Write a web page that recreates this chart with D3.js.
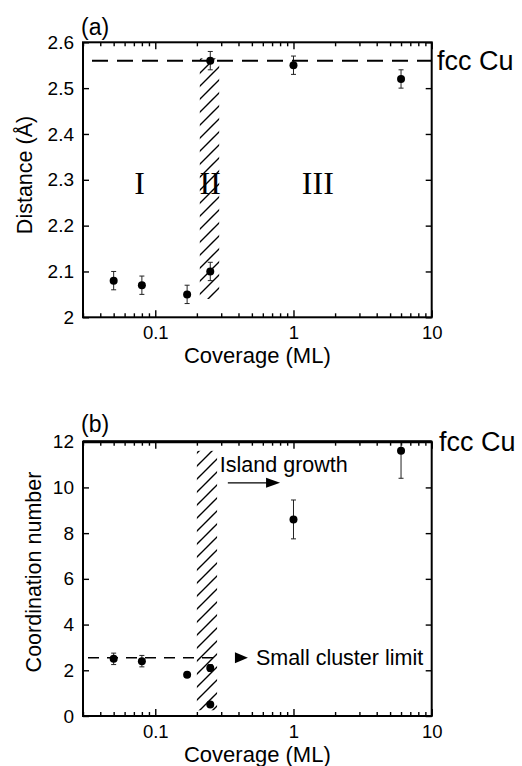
<!DOCTYPE html>
<html>
<head>
<meta charset="utf-8">
<script src="https://cdn.jsdelivr.net/npm/d3@7"></script>
<style>
  html, body { margin: 0; padding: 0; background: #fff; }
  svg { display: block; }
  text { font-family: "Liberation Sans", Arial, Helvetica, sans-serif; fill: #000; }
</style>
</head>
<body>
<svg id="chart" width="522" height="766"></svg>
<script>
// Measured samples: Cu coverage (ML)
const coverage = [0.05, 0.08, 0.17, 0.25, 0.25, 1, 6];
// (a) nearest-neighbour distance (Å) with error
const distance = [2.08, 2.07, 2.05, 2.10, 2.56, 2.55, 2.52];
const distanceErr = [0.02, 0.02, 0.02, 0.02, 0.02, 0.02, 0.02];
// (b) coordination number with error
const coordination = [2.5, 2.4, 1.8, 2.1, 0.5, 8.6, 11.6];
const coordinationErr = [0.25, 0.25, 0, 0.15, 0.08, 0.85, 1.2];

// Reference levels
const fccCuDistance = 2.56;
const fccCuCoordination = 12;
const smallClusterLimit = 2.55;

// Transition band (coverage range, value range)
const bandCoverageA = [0.21, 0.29];
const bandValueA = [2.04, 2.565];
const bandCoverageB = [0.20, 0.28];
const bandValueB = [0.25, 11.6];

// Regime labels
const regimeNames = ["I", "II", "III"];
const regimeCoverage = [0.077, 0.25, 1.5];
const regimeValue = 2.295;

// Annotations in panel (b)
const islandArrowCoverage = [0.335, 0.80];
const islandArrowValue = 10.2;
const clusterLineCoverage = [0.03, 0.29];
const clusterArrowCoverage = [0.377, 0.468];

// Axis ticks
const xMajorTicks = [0.1, 1, 10];
const xMinorTicks = [0.03,0.04,0.05,0.06,0.07,0.08,0.09,0.2,0.3,0.4,0.5,0.6,0.7,0.8,0.9,2,3,4,5,6,7,8,9];
const distanceTicks = [2, 2.1, 2.2, 2.3, 2.4, 2.5, 2.6];
const coordinationTicks = [0, 2, 4, 6, 8, 10, 12];

const svg = d3.select("#chart");

const left = 83, right = 431.7;
const x = d3.scaleLog().domain([0.03, 10]).range([left, right]);

const defs = svg.append("defs");
const hatch = defs.append("pattern")
  .attr("id", "hatch")
  .attr("patternUnits", "userSpaceOnUse")
  .attr("width", 13).attr("height", 13);
hatch.append("path")
  .attr("d", "M0,13 L13,0 M-3,3 L3,-3 M10,16 L16,10")
  .attr("stroke", "#000").attr("stroke-width", 1.4);

function drawPanel(opts) {
  const { top, bottom, domain, ticks, values, errors, yTitle, tag, tagY, id } = opts;
  const y = d3.scaleLinear().domain(domain).range([bottom, top]);
  const g = svg.append("g");

  defs.append("clipPath").attr("id", "clip" + id)
    .append("rect").attr("x", left).attr("y", top)
    .attr("width", right - left).attr("height", bottom - top);

  // hatched transition band
  g.append("rect")
    .attr("x", x(opts.band[0]))
    .attr("width", x(opts.band[1]) - x(opts.band[0]))
    .attr("y", y(opts.bandV[1]))
    .attr("height", y(opts.bandV[0]) - y(opts.bandV[1]))
    .attr("fill", "url(#hatch)");

  // axes: bottom and top (inward ticks)
  const styleAxis = sel => {
    sel.select(".domain").remove();
    sel.selectAll(".tick line").attr("stroke", "#000").attr("stroke-width", 1.4);
  };
  g.append("g").attr("transform", `translate(0,${bottom})`)
    .call(d3.axisBottom(x).tickValues(xMinorTicks).tickSize(-4).tickFormat(""))
    .call(styleAxis);
  g.append("g").attr("transform", `translate(0,${bottom})`)
    .call(d3.axisBottom(x).tickValues(xMajorTicks).tickSize(-7).tickPadding(9)
      .tickFormat(d3.format("~g")))
    .call(styleAxis)
    .selectAll("text").attr("font-size", 18.5).attr("font-family", null);
  g.append("g").attr("transform", `translate(0,${top})`)
    .call(d3.axisTop(x).tickValues(xMinorTicks).tickSize(-4).tickFormat(""))
    .call(styleAxis);
  g.append("g").attr("transform", `translate(0,${top})`)
    .call(d3.axisTop(x).tickValues(xMajorTicks).tickSize(-7).tickFormat(""))
    .call(styleAxis);

  // left and right axes
  g.append("g").attr("transform", `translate(${left},0)`)
    .call(d3.axisLeft(y).tickValues(ticks).tickSize(-6).tickPadding(9)
      .tickFormat(d3.format("~g")))
    .call(styleAxis)
    .selectAll("text").attr("font-size", 19).attr("font-family", null);
  g.append("g").attr("transform", `translate(${right},0)`)
    .call(d3.axisRight(y).tickValues(ticks).tickSize(-6).tickFormat(""))
    .call(styleAxis);

  // frame
  g.append("rect").attr("x", left).attr("y", top)
    .attr("width", right - left).attr("height", bottom - top)
    .attr("fill", "none").attr("stroke", "#000").attr("stroke-width", 2);

  // error bars and points
  const data = coverage.map((c, i) => ({ c, v: values[i], e: errors[i] }));
  const eb = g.append("g").attr("clip-path", `url(#clip${id})`);
  data.filter(d => d.e > 0).forEach(d => {
    const cx = x(d.c);
    eb.append("line").attr("x1", cx).attr("x2", cx)
      .attr("y1", y(d.v - d.e)).attr("y2", y(d.v + d.e))
      .attr("stroke", "#222").attr("stroke-width", 1);
    [d.v - d.e, d.v + d.e].forEach(v => {
      eb.append("line").attr("x1", cx - 2.5).attr("x2", cx + 2.5)
        .attr("y1", y(v)).attr("y2", y(v))
        .attr("stroke", "#222").attr("stroke-width", 1);
    });
  });
  g.append("g").selectAll("circle").data(data).join("circle")
    .attr("cx", d => x(d.c)).attr("cy", d => y(d.v)).attr("r", 4)
    .attr("fill", "#000");

  // titles
  g.append("text")
    .attr("transform", `translate(${opts.yTitleX},${opts.yTitleY}) rotate(-90)`)
    .attr("text-anchor", "middle").attr("dominant-baseline", "central")
    .attr("font-size", 21.5).text(yTitle);
  g.append("text")
    .attr("x", (left + right) / 2 + 0).attr("y", bottom + 46)
    .attr("text-anchor", "middle").attr("font-size", 22)
    .text("Coverage (ML)");
  g.append("text").attr("x", 81).attr("y", tagY)
    .attr("font-size", 23).text(tag);

  return { g, y };
}

// ---------- panel (a): distance ----------
const a = drawPanel({
  id: "a", top: 42.3, bottom: 317.3, domain: [2.0, 2.6],
  ticks: distanceTicks, values: distance, errors: distanceErr,
  yTitle: "Distance (Å)", yTitleX: 25, yTitleY: 175,
  tag: "(a)", tagY: 35, band: bandCoverageA, bandV: bandValueA
});
a.g.append("line")
  .attr("x1", x(0.03)).attr("x2", x(10))
  .attr("y1", a.y(fccCuDistance)).attr("y2", a.y(fccCuDistance))
  .attr("stroke", "#000").attr("stroke-width", 2)
  .attr("stroke-dasharray", "16,9").attr("stroke-dashoffset", -9);
a.g.append("text").attr("x", 437).attr("y", a.y(fccCuDistance))
  .attr("dominant-baseline", "central").attr("font-size", 27).text("fcc Cu");
a.g.selectAll(".regime").data(regimeNames).join("text")
  .attr("class", "regime")
  .attr("x", (d, i) => x(regimeCoverage[i]))
  .attr("y", a.y(regimeValue)).attr("dy", "0.36em")
  .attr("text-anchor", "middle")
  .style("font-family", '"Liberation Serif", "Times New Roman", serif')
  .attr("font-size", 32).text(d => d);

// ---------- panel (b): coordination number ----------
const b = drawPanel({
  id: "b", top: 441.7, bottom: 716, domain: [0, 12],
  ticks: coordinationTicks, values: coordination, errors: coordinationErr,
  yTitle: "Coordination number", yTitleX: 34, yTitleY: 572,
  tag: "(b)", tagY: 432, band: bandCoverageB, bandV: bandValueB
});
b.g.append("line")
  .attr("x1", x(0.03)).attr("x2", x(10))
  .attr("y1", b.y(fccCuCoordination)).attr("y2", b.y(fccCuCoordination))
  .attr("stroke", "#000").attr("stroke-width", 3);
b.g.append("text").attr("x", 439).attr("y", b.y(fccCuCoordination))
  .attr("dominant-baseline", "central").attr("font-size", 27).text("fcc Cu");

// small-cluster limit: dashed line, arrowhead, label
b.g.append("line")
  .attr("x1", x(clusterLineCoverage[0])).attr("x2", x(clusterLineCoverage[1]))
  .attr("y1", b.y(smallClusterLimit)).attr("y2", b.y(smallClusterLimit))
  .attr("stroke", "#000").attr("stroke-width", 1.5)
  .attr("stroke-dasharray", "11,8").attr("stroke-dashoffset", -5);
const cy = b.y(smallClusterLimit);
const cx0 = x(clusterArrowCoverage[0]), cx1 = x(clusterArrowCoverage[1]);
b.g.append("path")
  .attr("d", `M${cx0},${cy - 5.5} L${cx1},${cy} L${cx0},${cy + 5.5} Z`)
  .attr("fill", "#000");
b.g.append("text").attr("x", cx1 + 8).attr("y", cy)
  .attr("dominant-baseline", "central").attr("font-size", 21.5)
  .text("Small cluster limit");

// island growth arrow and label
const iy = b.y(islandArrowValue);
const ix0 = x(islandArrowCoverage[0]), ix1 = x(islandArrowCoverage[1]);
b.g.append("line").attr("x1", ix0).attr("x2", ix1 - 10)
  .attr("y1", iy).attr("y2", iy).attr("stroke", "#000").attr("stroke-width", 1.4);
b.g.append("path")
  .attr("d", `M${ix1 - 14},${iy - 5} L${ix1},${iy} L${ix1 - 14},${iy + 5} Z`)
  .attr("fill", "#000");
b.g.append("text").attr("x", ix0 - 8).attr("y", iy - 11)
  .attr("font-size", 21.5).text("Island growth");
</script>
</body>
</html>
